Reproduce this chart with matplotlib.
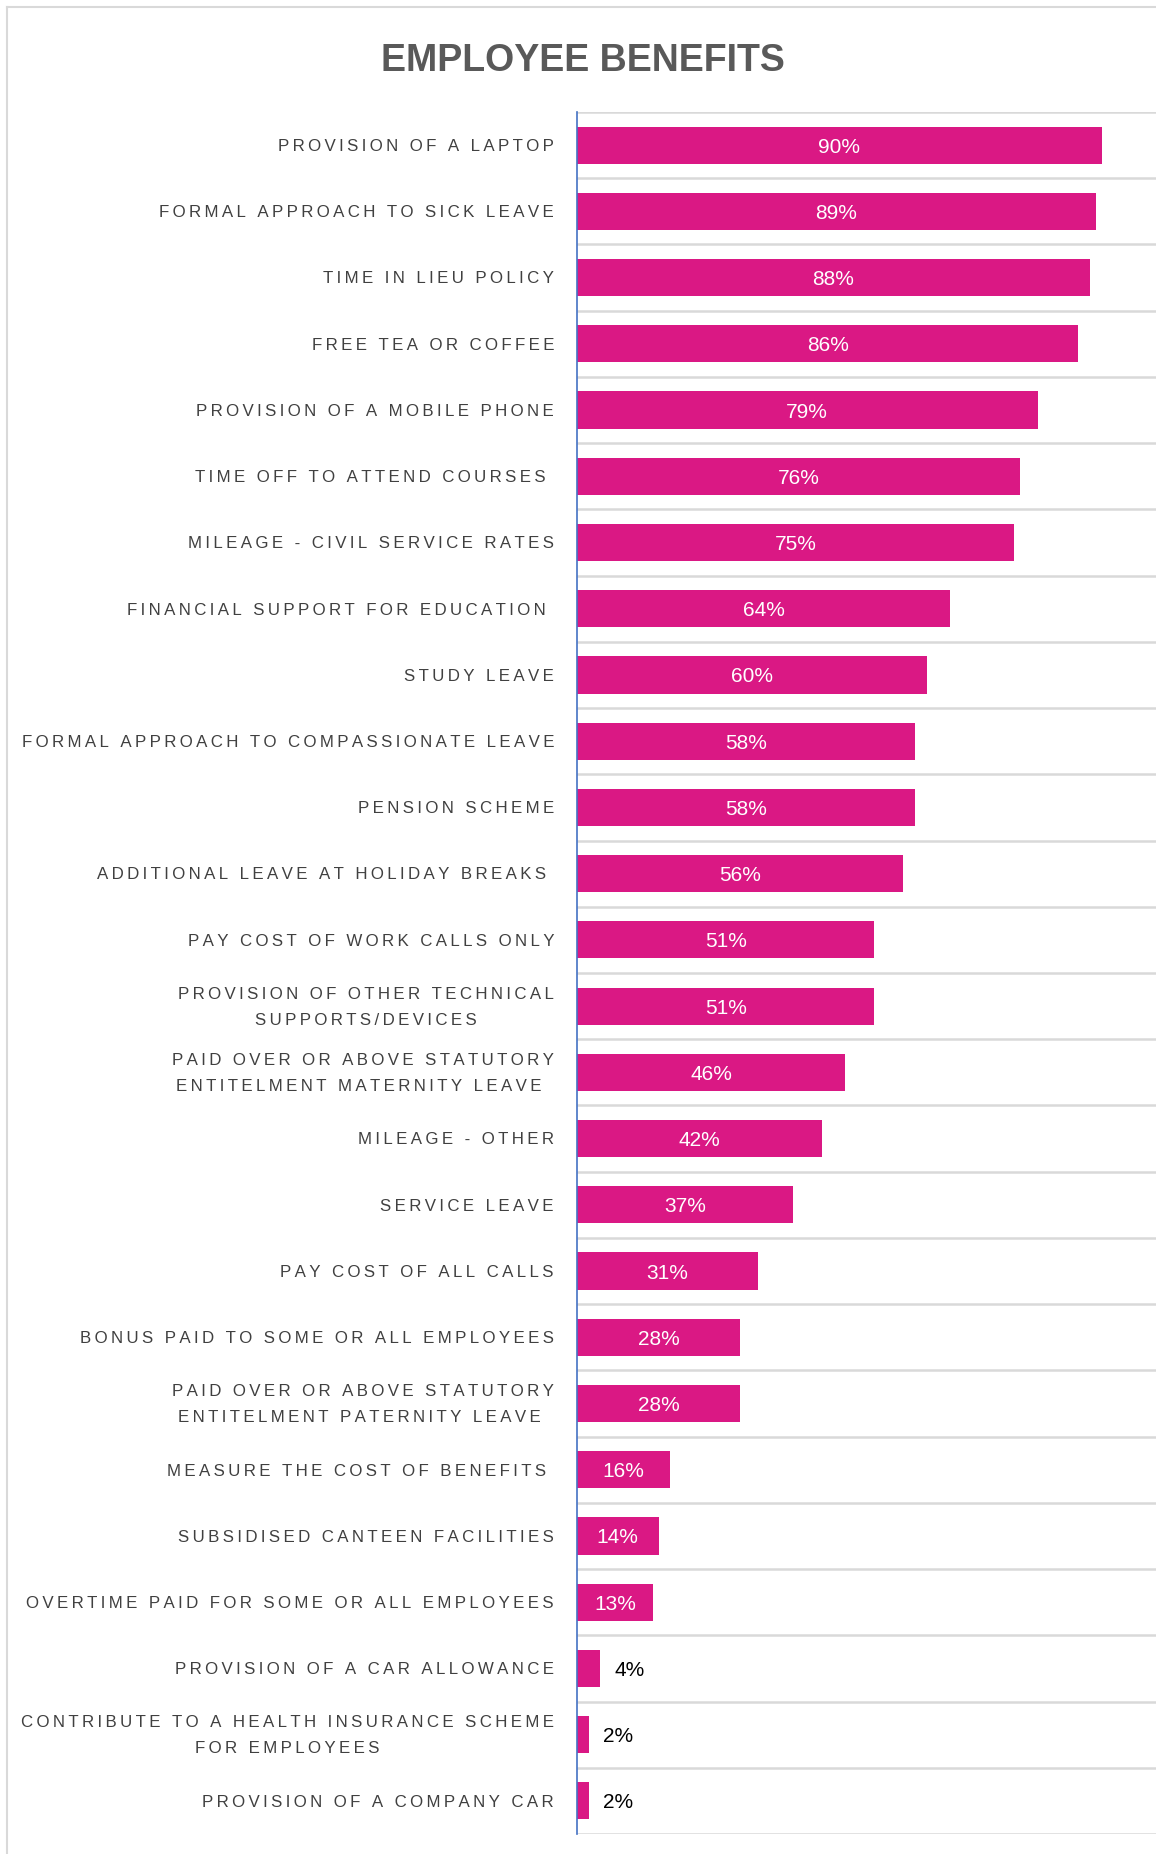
import matplotlib
matplotlib.use("Agg")
import matplotlib.pyplot as plt
from matplotlib.lines import Line2D

categories = [
    "PROVISION OF A LAPTOP",
    "FORMAL APPROACH TO SICK LEAVE",
    "TIME IN LIEU POLICY",
    "FREE TEA OR COFFEE",
    "PROVISION OF A MOBILE PHONE",
    "TIME OFF TO ATTEND COURSES ",
    "MILEAGE - CIVIL SERVICE RATES",
    "FINANCIAL SUPPORT FOR EDUCATION ",
    "STUDY LEAVE",
    "FORMAL APPROACH TO COMPASSIONATE LEAVE",
    "PENSION SCHEME",
    "ADDITIONAL LEAVE AT HOLIDAY BREAKS ",
    "PAY COST OF WORK CALLS ONLY",
    "PROVISION OF OTHER TECHNICAL\nSUPPORTS/DEVICES",
    "PAID OVER OR ABOVE STATUTORY\nENTITELMENT MATERNITY LEAVE ",
    "MILEAGE - OTHER",
    "SERVICE LEAVE",
    "PAY COST OF ALL CALLS",
    "BONUS PAID TO SOME OR ALL EMPLOYEES",
    "PAID OVER OR ABOVE STATUTORY\nENTITELMENT PATERNITY LEAVE ",
    "MEASURE THE COST OF BENEFITS ",
    "SUBSIDISED CANTEEN FACILITIES",
    "OVERTIME PAID FOR SOME OR ALL EMPLOYEES",
    "PROVISION OF A CAR ALLOWANCE",
    "CONTRIBUTE TO A HEALTH INSURANCE SCHEME\nFOR EMPLOYEES",
    "PROVISION OF A COMPANY CAR",
]
values = [90, 89, 88, 86, 79, 76, 75, 64, 60, 58, 58, 56, 51, 51, 46, 42,
          37, 31, 28, 28, 16, 14, 13, 4, 2, 2]
title = "EMPLOYEE BENEFITS"

BAR = "#DA1884"
FONT = ["Liberation Sans", "DejaVu Sans"]
TS = "\u2009"


def spaced(s):
    return "\n".join(TS.join(list(ln)) for ln in s.split("\n"))


W, H = 1156, 1854
fig = plt.figure(figsize=(W / 100, H / 100), dpi=100)
fig.patch.set_facecolor("white")

# outer border
fig.add_artist(Line2D([7 / W, 7 / W], [0, 1 - 7 / H], transform=fig.transFigure,
                      color="#d9d9d9", lw=1.5))
fig.add_artist(Line2D([7 / W, 1], [1 - 7 / H, 1 - 7 / H], transform=fig.transFigure,
                      color="#d9d9d9", lw=1.5))

left = 577 / W
width = 583 / W
top = 1 - 112 / H
bottom = 1 - 1834 / H
ax = fig.add_axes([left, bottom, width, top - bottom])

n = len(categories)
ypos = list(range(n))
ax.barh(ypos, values, height=0.56, color=BAR, zorder=3)
ax.set_xlim(0, 100)
ax.set_ylim(n - 0.5, -0.5)

for y, v in zip(ypos, values):
    if v >= 10:
        ax.text(v / 2, y + 0.03, f"{v}%", ha="center", va="center", color="white",
                fontsize=15, family=FONT, zorder=4)
    else:
        ax.annotate(f"{v}%", xy=(v, y + 0.03), xytext=(14, 0), textcoords="offset pixels",
                    ha="left", va="center", color="black", fontsize=15,
                    family=FONT, zorder=4)

# category labels
ytr = ax.get_yaxis_transform()
for y, c in zip(ypos, categories):
    ax.text(-23 / 583, y + 0.02, spaced(c), transform=ytr, ha="right", va="center",
            multialignment="center", linespacing=1.92, family=FONT,
            fontsize=12.2, color="#404040", clip_on=False)

ax.set_yticks([i - 0.5 for i in range(n + 1)])
ax.set_yticklabels([])
ax.tick_params(axis="y", length=0)
ax.set_xticks([])
ax.grid(axis="y", color="#d9d9d9", lw=1.8, zorder=0)

for s in ["top", "right", "bottom"]:
    ax.spines[s].set_visible(False)
ax.spines["left"].set_color("#4472C4")
ax.spines["left"].set_linewidth(1.2)
ax.spines["left"].set_zorder(5)

fig.text(583 / W, 1 - 71 / H, title, ha="center", va="baseline",
         fontsize=27, fontweight="bold", color="#595959", family=FONT)

fig.savefig("out.png", dpi=100, facecolor="white")
